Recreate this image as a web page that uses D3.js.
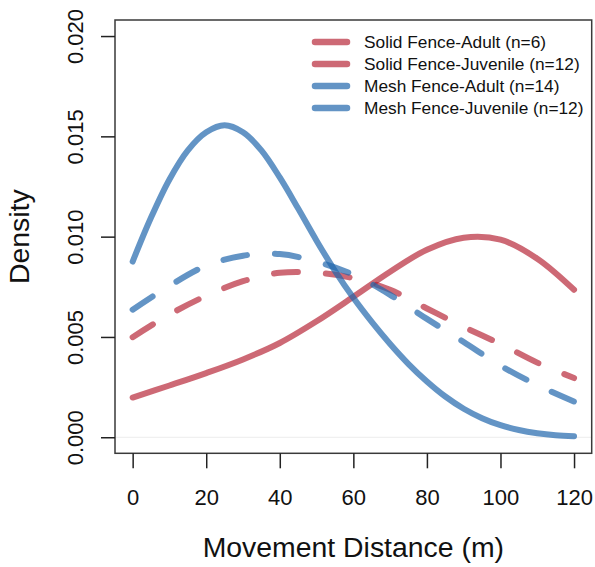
<!DOCTYPE html>
<html>
<head>
<meta charset="utf-8">
<script src="https://d3js.org/d3.v7.min.js"></script>
<style>
  html, body { margin: 0; padding: 0; background: #fff; }
  svg { display: block; font-family: "Liberation Sans", Arial, sans-serif; }
</style>
</head>
<body>
<svg id="chart" width="595" height="567"></svg>
<script>
// ---- Data (density values) ----
const xTicks = [0, 20, 40, 60, 80, 100, 120];
const yTicks = [0, 0.005, 0.010, 0.015, 0.020];
const yTickLabels = ["0.000", "0.005", "0.010", "0.015", "0.020"];

const meshAdultX = [0, 5, 10, 15, 20, 25, 30, 35, 40, 45, 50, 55, 60, 65, 70, 75, 80, 85, 90, 95, 100, 105, 110, 115, 120];
const meshAdultY = [0.00876, 0.01095, 0.01285, 0.01430, 0.01520, 0.01555, 0.01520, 0.01430, 0.01295, 0.01140, 0.00980, 0.00830, 0.00695, 0.00575, 0.00465, 0.00365, 0.00278, 0.00203, 0.00142, 0.00095, 0.00060, 0.00036, 0.00020, 0.00010, 0.00005];

const stepX = [0, 10, 20, 30, 40, 50, 60, 70, 80, 90, 100, 110, 120];
const meshJuvY  = [0.00636, 0.00755, 0.00855, 0.00905, 0.00913, 0.00875, 0.00810, 0.00710, 0.00590, 0.00475, 0.00357, 0.00260, 0.00178];
const solidJuvY = [0.00499, 0.00612, 0.00705, 0.00778, 0.00820, 0.00820, 0.00793, 0.00735, 0.00642, 0.00550, 0.00465, 0.00372, 0.00295];
const solidAdultY = [0.00198, 0.00258, 0.00320, 0.00388, 0.00470, 0.00578, 0.00700, 0.00825, 0.00935, 0.00995, 0.00985, 0.00890, 0.00735];

const seriesNames = ["Solid Fence-Adult (n=6)", "Solid Fence-Juvenile (n=12)", "Mesh Fence-Adult (n=14)", "Mesh Fence-Juvenile (n=12)"];

const RED = "rgba(178,24,43,0.65)";
const BLUE = "rgba(33,102,172,0.70)";

const series = [
  { name: seriesNames[0], xs: stepX, ys: solidAdultY, color: RED, dashed: false },
  { name: seriesNames[1], xs: stepX, ys: solidJuvY, color: RED, dashed: true },
  { name: seriesNames[2], xs: meshAdultX, ys: meshAdultY, color: BLUE, dashed: false },
  { name: seriesNames[3], xs: stepX, ys: meshJuvY, color: BLUE, dashed: true }
];

// ---- Layout ----
const svg = d3.select("#chart");
const box = { left: 115, right: 591.7, top: 20, bottom: 453.3 };

const x = d3.scaleLinear().domain([-4.8, 124.8]).range([box.left, box.right]);
const y = d3.scaleLinear().domain([-0.0008, 0.0208]).range([box.bottom, box.top]);

// faint zero line
svg.append("line")
  .attr("x1", box.left).attr("x2", box.right)
  .attr("y1", y(0)).attr("y2", y(0))
  .attr("stroke", "#ececec").attr("stroke-width", 1);

// curves
const line = d3.line()
  .x(d => x(d[0])).y(d => y(d[1]))
  .curve(d3.curveCatmullRom.alpha(0.5));

series.forEach(s => {
  const pts = s.xs.map((v, i) => [v, s.ys[i]]);
  svg.append("path")
    .datum(pts)
    .attr("d", line)
    .attr("fill", "none")
    .attr("stroke", s.color)
    .attr("stroke-width", 6)
    .attr("stroke-linecap", "round")
    .attr("stroke-linejoin", "round")
    .attr("stroke-dasharray", s.dashed ? "24,28" : null);
});

// plot box
svg.append("rect")
  .attr("x", box.left).attr("y", box.top)
  .attr("width", box.right - box.left).attr("height", box.bottom - box.top)
  .attr("fill", "none").attr("stroke", "#3a3a3a").attr("stroke-width", 1.5);

// x axis
const xAxis = svg.append("g")
  .attr("transform", `translate(0,${box.bottom})`)
  .call(d3.axisBottom(x).tickValues(xTicks).tickSize(15).tickFormat(d3.format("d")));
xAxis.select(".domain").remove();
xAxis.selectAll(".tick line").attr("stroke", "#222").attr("stroke-width", 1.5);
xAxis.selectAll(".tick text")
  .attr("y", 51.5).attr("dy", 0)
  .attr("fill", "#111")
  .style("font-size", "22px")
  .style("font-family", "Liberation Sans, Arial, sans-serif");

// y axis
const yAxis = svg.append("g")
  .attr("transform", `translate(${box.left},0)`)
  .call(d3.axisLeft(y).tickValues(yTicks).tickSize(14).tickFormat((d, i) => yTickLabels[i]));
yAxis.select(".domain").remove();
yAxis.selectAll(".tick line").attr("stroke", "#222").attr("stroke-width", 1.5);
yAxis.selectAll(".tick text")
  .attr("x", 0).attr("y", -32).attr("dy", 0)
  .attr("transform", "rotate(-90)")
  .attr("text-anchor", "middle")
  .attr("fill", "#111")
  .style("font-size", "22px")
  .style("font-family", "Liberation Sans, Arial, sans-serif");

// axis titles
svg.append("text")
  .attr("x", (box.left + box.right) / 2).attr("y", 557)
  .attr("text-anchor", "middle")
  .attr("fill", "#111")
  .style("font-size", "28.4px")
  .text("Movement Distance (m)");

svg.append("text")
  .attr("transform", `translate(28.5,${(box.top + box.bottom) / 2}) rotate(-90)`)
  .attr("text-anchor", "middle")
  .attr("fill", "#111")
  .style("font-size", "28.4px")
  .text("Density");

// legend
const legend = svg.append("g");
const rowY = [42, 64, 86, 108];
series.forEach((s, i) => {
  legend.append("line")
    .attr("x1", 315).attr("x2", 347)
    .attr("y1", rowY[i]).attr("y2", rowY[i])
    .attr("stroke", s.color).attr("stroke-width", 6.5)
    .attr("stroke-linecap", "round");
  legend.append("text")
    .attr("x", 364).attr("y", rowY[i]).attr("dy", "0.35em")
    .attr("fill", "#111")
    .style("font-size", "17.3px")
    .text(s.name);
});
</script>
</body>
</html>
